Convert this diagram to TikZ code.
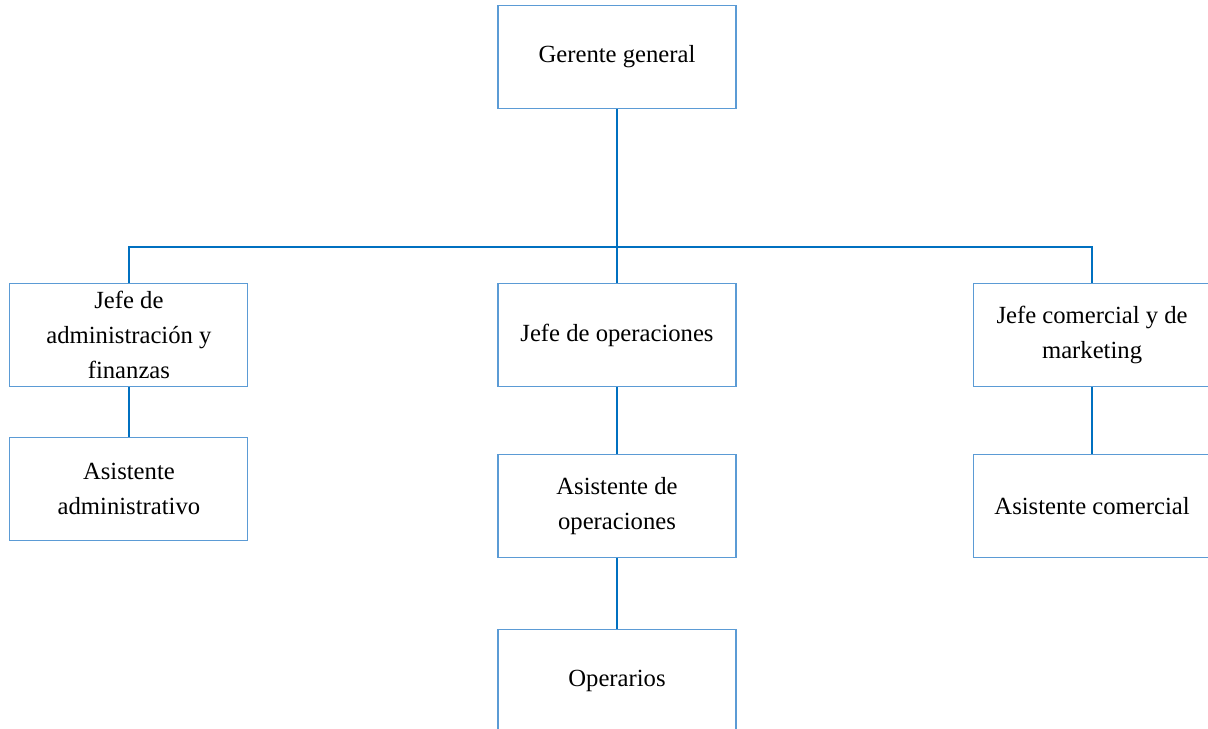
\documentclass[tikz,border=0pt]{standalone}
\usepackage{fontspec}
\setmainfont{Liberation Serif}
\usetikzlibrary{positioning}
\definecolor{orgbox}{HTML}{5B9BD5}
\definecolor{orgline}{HTML}{0070C0}

\begin{document}
\begin{tikzpicture}[
        puesto/.style={draw=orgbox, line width=0.8pt, minimum width=178.5pt,
                       minimum height=77.25pt, align=center, inner sep=0pt,
                       font=\fontsize{18.5}{26}\selectfont},
        enlace/.style={draw=orgline, line width=1.1pt}
      ]
        \useasboundingbox (0,0) rectangle (906pt,-546.75pt);
        \node[puesto] (gerente) at (462.75pt,-42.75pt) {Gerente general};
        \node[puesto] (operaciones) [below=130.5pt of gerente] {Jefe de operaciones};
        \node[puesto] (admin) [left=186.75pt of operaciones] {Jefe de\\administración y\\finanzas};
        \node[puesto] (comercial) [right=177pt of operaciones] {Jefe comercial y de\\marketing};
        \node[puesto] (asisadmin) [below=37.5pt of admin] {Asistente\\administrativo};
        \node[puesto] (asisop) [below=50.25pt of operaciones] {Asistente de\\operaciones};
        \node[puesto] (asiscom) [below=50.25pt of comercial] {Asistente comercial};
        \node[puesto] (operarios) [below=53.25pt of asisop] {Operarios};
        \coordinate (bus) at (0,-185.25pt);
        \draw[enlace] (gerente) -- (operaciones);
        \draw[enlace] (admin.north) -- (admin.north |- bus) -- (comercial.north |- bus) -- (comercial.north);
        \draw[enlace] (admin) -- (asisadmin);
        \draw[enlace] (operaciones) -- (asisop);
        \draw[enlace] (asisop) -- (operarios);
        \draw[enlace] (comercial) -- (asiscom);
      \end{tikzpicture}
\end{document}
